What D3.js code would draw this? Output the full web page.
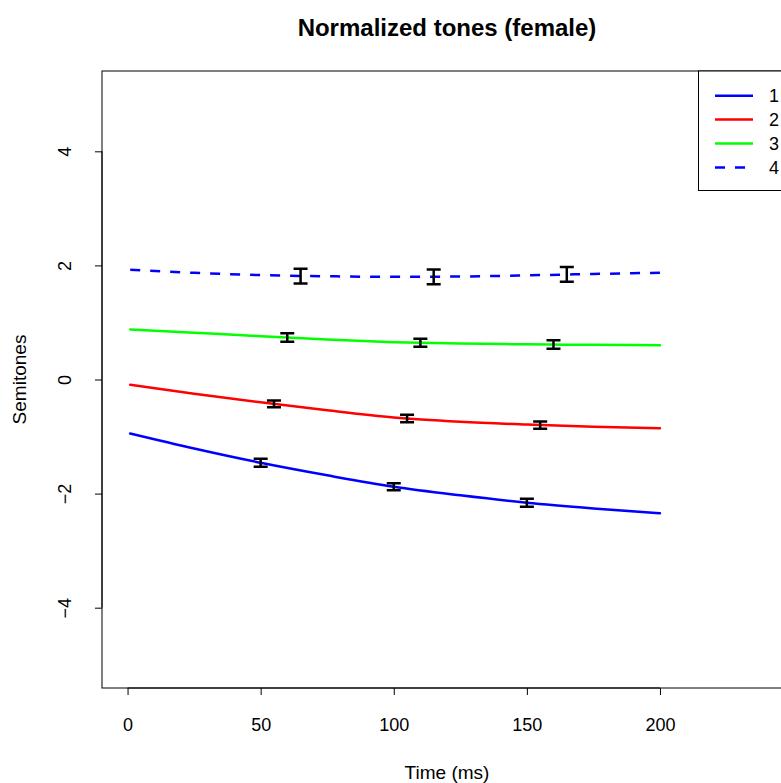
<!DOCTYPE html>
<html>
<head>
<meta charset="utf-8">
<script src="https://cdn.jsdelivr.net/npm/d3@7"></script>
<style>
  body { margin: 0; background: #fff; }
  svg { display: block; font-family: "Liberation Sans", Arial, sans-serif; }
</style>
</head>
<body>
<script>
// fitted curves, sampled along time
const curveTimes = [1, 25, 50, 75, 100, 125, 150, 175, 200];
const tone1 = [-0.947, -1.21, -1.46, -1.68, -1.88, -2.03, -2.16, -2.26, -2.345];
const tone2 = [-0.093, -0.25, -0.40, -0.54, -0.665, -0.74, -0.79, -0.83, -0.854];
const tone3 = [0.877, 0.82, 0.76, 0.70, 0.655, 0.63, 0.617, 0.608, 0.602];
const tone4 = [1.925, 1.87, 1.83, 1.81, 1.80, 1.805, 1.825, 1.85, 1.871];

// error bars (mean +/- se) at offset times
const ebTimes1 = [50, 100, 150], ebMean1 = [-1.46, -1.88, -2.16], ebSe1 = [0.07, 0.06, 0.07];
const ebTimes2 = [55, 105, 155], ebMean2 = [-0.427, -0.684, -0.80], ebSe2 = [0.06, 0.065, 0.065];
const ebTimes3 = [60, 110, 160], ebMean3 = [0.737, 0.643, 0.614], ebSe3 = [0.075, 0.07, 0.075];
const ebTimes4 = [65, 115, 165], ebMean4 = [1.813, 1.80, 1.842], ebSe4 = [0.13, 0.13, 0.128];

const toneNames = ["1", "2", "3", "4"];
const xTicks = [0, 50, 100, 150, 200];
const yTicks = [-4, -2, 0, 2, 4];

const series = [
  { name: "1", vals: tone1, color: "#0000ff", dash: null, eb: [ebTimes1, ebMean1, ebSe1] },
  { name: "2", vals: tone2, color: "#ff0000", dash: null, eb: [ebTimes2, ebMean2, ebSe2] },
  { name: "3", vals: tone3, color: "#00ff00", dash: null, eb: [ebTimes3, ebMean3, ebSe3] },
  { name: "4", vals: tone4, color: "#0000ff", dash: "10,10", eb: [ebTimes4, ebMean4, ebSe4] },
];

const W = 781, H = 783;
const mLeft = 102, mRight = 792, mTop = 71, mBottom = 688;

const x = d3.scaleLinear().domain([-9.6, 249.6]).range([mLeft, mRight]);
const y = d3.scaleLinear().domain([-5.408, 5.408]).range([mBottom, mTop]);

const svg = d3.select("body").append("svg").attr("width", W).attr("height", H);

// title
svg.append("text")
  .attr("x", (mLeft + mRight) / 2).attr("y", 36)
  .attr("text-anchor", "middle")
  .attr("font-weight", "bold").attr("font-size", 24)
  .text("Normalized tones (female)");

// lines
const line = d3.line()
  .x((d, i) => x(curveTimes[i]))
  .y(d => y(d))
  .curve(d3.curveMonotoneX);

svg.append("g").selectAll("path")
  .data(series)
  .join("path")
  .attr("d", d => line(d.vals))
  .attr("fill", "none")
  .attr("stroke", d => d.color)
  .attr("stroke-width", 2.5)
  .attr("stroke-linecap", d => d.dash ? "butt" : "round")
  .attr("stroke-dasharray", d => d.dash);

// error bars
const ebData = series.flatMap(s => s.eb[0].map((t, i) => ({ t, m: s.eb[1][i], se: s.eb[2][i] })));
const eb = svg.append("g").attr("stroke", "#000").attr("stroke-width", 2.5).attr("fill", "none");
eb.selectAll("path")
  .data(ebData)
  .join("path")
  .attr("d", d => {
    const cx = x(d.t), y0 = y(d.m - d.se), y1 = y(d.m + d.se);
    return `M${cx},${y0}V${y1}M${cx - 7},${y0}H${cx + 7}M${cx - 7},${y1}H${cx + 7}`;
  });

// box
svg.append("rect")
  .attr("x", mLeft).attr("y", mTop)
  .attr("width", mRight - mLeft).attr("height", mBottom - mTop)
  .attr("fill", "none").attr("stroke", "#000").attr("stroke-width", 1);

// x axis
const xAxis = d3.axisBottom(x).tickValues(xTicks).tickSize(7).tickPadding(23).tickFormat(d3.format("d"));
const gx = svg.append("g").attr("transform", `translate(0,${mBottom})`).call(xAxis);
gx.select(".domain").attr("d", `M${x(0)},0H${x(200)}`);
gx.selectAll("text").attr("font-size", 18).attr("fill", "#000").attr("font-family", null);
gx.selectAll("line").attr("stroke", "#000");

// y axis
const yAxis = d3.axisLeft(y).tickValues(yTicks).tickSize(7).tickFormat(d3.format("d"));
const gy = svg.append("g").attr("transform", `translate(${mLeft},0)`).call(yAxis);
gy.select(".domain").attr("d", `M0,${y(-4)}V${y(4)}`);
gy.selectAll("line").attr("stroke", "#000");
gy.selectAll("text")
  .attr("font-size", 18).attr("fill", "#000").attr("font-family", null)
  .attr("x", null).attr("dy", null)
  .attr("text-anchor", "middle")
  .attr("transform", "translate(-31,0) rotate(-90)");

// axis titles
svg.append("text")
  .attr("x", (mLeft + mRight) / 2).attr("y", 779)
  .attr("text-anchor", "middle").attr("font-size", 19)
  .text("Time (ms)");
svg.append("text")
  .attr("transform", `translate(26,${(mTop + mBottom) / 2}) rotate(-90)`)
  .attr("text-anchor", "middle").attr("font-size", 19)
  .text("Semitones");

// legend
const lg = svg.append("g");
lg.append("rect")
  .attr("x", 698.5).attr("y", mTop)
  .attr("width", mRight - 698.5).attr("height", 119.5)
  .attr("fill", "#fff").attr("stroke", "#000").attr("stroke-width", 1);
const items = lg.selectAll("g.item")
  .data(series)
  .join("g")
  .attr("class", "item")
  .attr("transform", (d, i) => `translate(0,${95.7 + i * 23.9})`);
items.append("line")
  .attr("x1", 715).attr("x2", 753)
  .attr("stroke", d => d.color).attr("stroke-width", 2.5)
  .attr("stroke-dasharray", d => d.dash);
items.append("text")
  .attr("x", 769).attr("dy", "0.36em")
  .attr("font-size", 18)
  .text((d, i) => toneNames[i]);
</script>
</body>
</html>
